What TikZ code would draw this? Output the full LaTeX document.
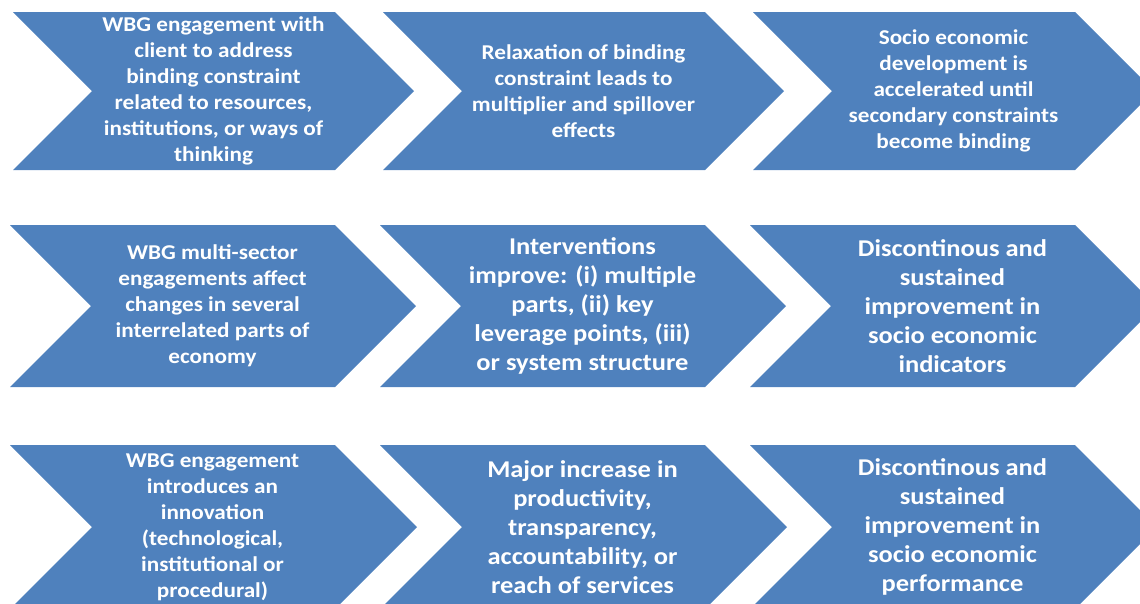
\documentclass[tikz,border=0pt]{standalone}
\usepackage{fontspec}
\setmainfont{Carlito}[FakeStretch=1.1]
\usepackage{xcolor}
\usetikzlibrary{positioning}
\definecolor{chevblue}{HTML}{4F81BD}
\tikzset{
  chevron/.style={fill=chevblue, draw=none},
  chevtext/.style={
    text=white, align=center, inner sep=0pt,
    font=\bfseries\fontsize{12}{14.8}\selectfont
  },
  chevbig/.style={
    chevtext, font=\bfseries\fontsize{13.7}{16.5}\selectfont
  },
}

\begin{document}
\begin{tikzpicture}[x=0.02cm, y=-0.02cm]
  \useasboundingbox (0,0) rectangle (1140,603);
  \clip (0,0) rectangle (1140,603);
  % left edge / top-right corner / mid line / half height
  \foreach \l/\c/\m/\h in {13/335/91/79, 383/705/91/79, 753/1075/91/79,
                           10/335/306/81, 380/705/306/81, 750/1075/306/81,
                           10/335/527/82, 380/705/527/82, 750/1075/527/82}
    \fill[chevron] (\l,\m-\h) -- (\c,\m-\h) -- (\c+\h,\m) -- (\c,\m+\h)
      -- (\l,\m+\h) -- (\l+\h,\m) -- cycle;

  % first row
  \node[chevtext] (engage) at (213.5,91) {WBG engagement with\\client to address\\binding constraint\\related to resources,\\institutions, or ways of\\thinking};
  \node[chevtext] (relax) at (583.5,91) {Relaxation of binding\\constraint leads to\\multiplier and spillover\\effects};
  \node[chevtext] (accel) at (953.5,91) {Socio economic\\development is\\accelerated until\\secondary constraints\\become binding};

  % second row
  \node[chevtext] (multi) at (212.5,306) {WBG multi-sector\\engagements affect\\changes in several\\interrelated parts of\\economy};
  \node[chevbig] (interv) at (582.5,306) {Interventions\\improve: (i) multiple\\parts, (ii) key\\leverage points, (iii)\\or system structure};
  \node[chevbig] (indic) at (952.5,306) {Discontinous and\\sustained\\improvement in\\socio economic\\indicators};

  % third row
  \node[chevtext] (innov) at (212.5,527) {WBG engagement\\introduces an\\innovation\\(technological,\\institutional or\\procedural)};
  \node[chevbig] (major) at (582.5,527) {Major increase in\\productivity,\\transparency,\\accountability, or\\reach of services};
  \node[chevbig] (perf) at (952.5,527) {Discontinous and\\sustained\\improvement in\\socio economic\\performance};
\end{tikzpicture}
\end{document}
